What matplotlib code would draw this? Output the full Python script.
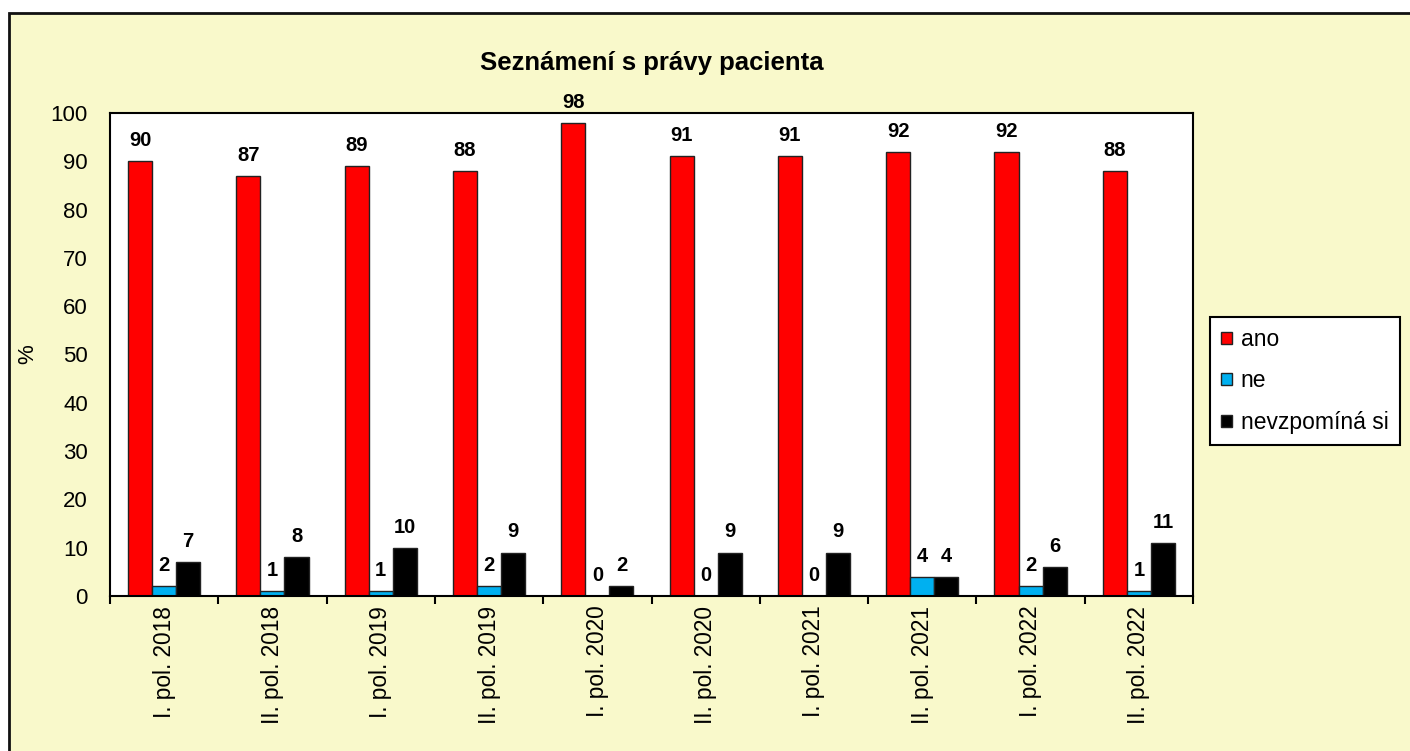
import matplotlib.pyplot as plt
import numpy as np
from matplotlib.patches import Rectangle

plt.rcParams['font.family'] = ['Liberation Sans', 'DejaVu Sans']

categories = ['I. pol. 2018', 'II. pol. 2018', 'I. pol. 2019', 'II. pol. 2019',
              'I. pol. 2020', 'II. pol. 2020', 'I. pol. 2021', 'II. pol. 2021',
              'I. pol. 2022', 'II. pol. 2022']
ano = [90, 87, 89, 88, 98, 91, 91, 92, 92, 88]
ne = [2, 1, 1, 2, 0, 0, 0, 4, 2, 1]
nevzpomina = [7, 8, 10, 9, 2, 9, 9, 4, 6, 11]

series_names = ['ano', 'ne', 'nevzpomíná si']
colors = ['#FF0000', '#00B0F0', '#000000']

W, H = 1410, 751
fig = plt.figure(figsize=(W / 100, H / 100), dpi=100)
fig.patch.set_facecolor('white')
# chart area: border visible only on top and left, runs off the right/bottom edge
fig.patches.append(Rectangle((9 / W, -0.05), 1.1, 1.05 - 13 / H,
                             transform=fig.transFigure, facecolor='#F9F9CB',
                             edgecolor='#111111', linewidth=2, zorder=-10))

ax = fig.add_axes([110 / W, 1 - 596 / H, (1193 - 110) / W, (596 - 113) / H])
ax.set_facecolor('white')

x = np.arange(len(categories))
bw = 1 / 4.5
for k, (vals, c, name) in enumerate(zip([ano, ne, nevzpomina], colors, series_names)):
    pos = x + (k - 1) * bw
    ax.bar(pos, vals, width=bw, color=c, edgecolor='#222222', linewidth=1, label=name)
    for p, v in zip(pos, vals):
        ax.annotate(str(v), (p, v), xytext=(0, 8), textcoords='offset points',
                    ha='center', va='bottom', fontsize=14.5, fontweight='bold')

ax.set_xlim(-0.5, len(categories) - 0.5)
ax.set_ylim(0, 100)
ax.set_yticks(np.arange(0, 101, 10))
ax.tick_params(axis='y', length=0, labelsize=16, pad=16)
ax.set_xticks(x)
ax.set_xticklabels(categories, rotation=90, fontsize=16.3)
ax.tick_params(axis='x', length=0, pad=7)
ax.set_xticks(np.arange(-0.5, len(categories), 1), minor=True)
ax.tick_params(axis='x', which='minor', length=6, width=1.5, direction='out')
for s in ax.spines.values():
    s.set_linewidth(1.5)

fig.text(28 / W, 1 - 354 / H, '%', rotation=90, ha='center', va='center', fontsize=16)
ax.set_title('Seznámení s právy pacienta', fontsize=18.5, fontweight='bold', pad=31)

leg = ax.legend(loc='center left', bbox_to_anchor=((1210 - 110) / (1193 - 110), (596 - 381) / (596 - 113)),
                fontsize=16.5, frameon=True, fancybox=False, edgecolor='black',
                facecolor='white', framealpha=1,
                handlelength=0.45, handleheight=0.45, handletextpad=0.4,
                labelspacing=0.8, borderpad=0.5, borderaxespad=0)
leg.get_frame().set_linewidth(1.5)

fig.savefig('out.png', dpi=100, facecolor=fig.get_facecolor())
